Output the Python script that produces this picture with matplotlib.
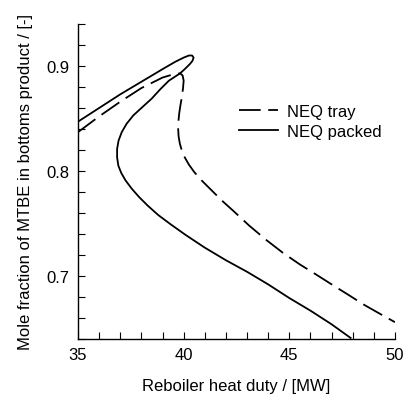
import matplotlib
matplotlib.use("Agg")
import matplotlib.pyplot as plt
from matplotlib.ticker import MultipleLocator

plt.rcParams['font.family'] = ['Liberation Sans', 'DejaVu Sans']

# NEQ packed column (solid): upper branch -> turning point -> lower branch
packed_q = [35.0, 36.0, 37.0, 38.0, 39.0, 39.6, 40.0, 40.25, 40.4, 40.47,
            40.42, 40.3, 40.05, 39.83, 39.3, 38.9, 38.49, 38.0, 37.62, 37.3,
            37.07, 36.92, 36.85, 36.85, 36.91, 37.05, 37.25, 37.55, 37.9, 38.3,
            38.8, 39.4, 40.1, 41.0, 42.0, 43.0, 44.0, 45.0, 46.0, 47.0, 47.9]
packed_x = [0.847, 0.860, 0.873, 0.885, 0.897, 0.904, 0.908, 0.910, 0.910, 0.908,
            0.905, 0.902, 0.897, 0.893, 0.886, 0.878, 0.869, 0.860, 0.853, 0.845,
            0.837, 0.829, 0.821, 0.813, 0.805, 0.798, 0.791, 0.783, 0.775, 0.767,
            0.758, 0.749, 0.739, 0.727, 0.715, 0.704, 0.692, 0.679, 0.667, 0.654,
            0.641]

# NEQ tray column (dashed)
tray_q = [35.0, 36.0, 37.0, 38.0, 39.0, 39.5, 39.83, 39.95, 40.0, 39.97,
          39.92, 39.85, 39.79, 39.75, 39.74, 39.76, 39.82, 39.92, 40.05, 40.25,
          40.5, 40.85, 41.3, 41.8, 42.35, 43.1, 43.93, 44.7, 45.5, 46.3, 47.08,
          47.8, 48.5, 49.2, 50.0]
tray_x = [0.837, 0.852, 0.866, 0.879, 0.889, 0.892, 0.893, 0.891, 0.886, 0.879,
          0.871, 0.863, 0.855, 0.847, 0.840, 0.833, 0.826, 0.819, 0.813, 0.806,
          0.799, 0.791, 0.782, 0.772, 0.762, 0.748, 0.734, 0.722, 0.711, 0.701,
          0.691, 0.682, 0.673, 0.665, 0.656]

fig = plt.figure(figsize=(4.04, 4.02), dpi=100)
ax = fig.add_axes([78/404, 62/402, 317/404, 315/402])

ax.plot(tray_q, tray_x, color='black', lw=1.3, dashes=(12, 4.2), label='NEQ tray')
ax.plot(packed_q, packed_x, color='black', lw=1.3, label='NEQ packed')

ax.set_xlim(35, 50)
ax.set_ylim(0.64, 0.94)
ax.xaxis.set_major_locator(MultipleLocator(5))
ax.xaxis.set_minor_locator(MultipleLocator(1))
ax.yaxis.set_minor_locator(MultipleLocator(0.02))
ax.set_yticks([0.7, 0.8, 0.9])
ax.set_yticklabels(['0.7', '0.8', '0.9'])
ax.tick_params(which='both', direction='in', length=5, width=0.8, labelsize=12, pad=6)

for s in ['top', 'right']:
    ax.spines[s].set_visible(False)
for s in ['left', 'bottom']:
    ax.spines[s].set_linewidth(1.0)

ax.set_xlabel('Reboiler heat duty / [MW]', fontsize=12, labelpad=11)
ax.set_ylabel('Mole fraction of MTBE in bottoms product / [-]', fontsize=12, labelpad=9.5)

ax.legend(loc='upper left', bbox_to_anchor=(239/404, 1 - 105/402),
          bbox_transform=fig.transFigure, frameon=False, fontsize=12,
          handlelength=2.35, handletextpad=0.55, labelspacing=0.3,
          borderpad=0, borderaxespad=0)

fig.savefig('out.png', dpi=100)
